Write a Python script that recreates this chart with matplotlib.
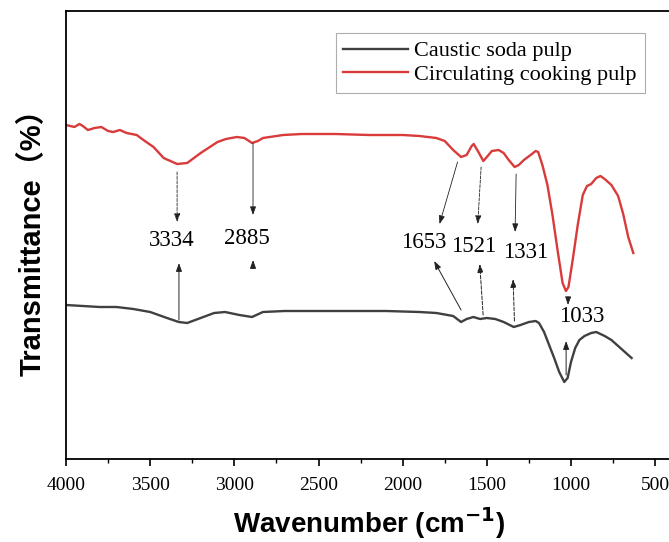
import matplotlib
matplotlib.use("Agg")
import matplotlib.pyplot as plt
from matplotlib.ticker import MultipleLocator

# ── Spectra (wavenumber cm-1, transmittance in arbitrary units) ──
wn_circ = [4000, 3950, 3920, 3900, 3870, 3830, 3790, 3750, 3720, 3680, 3640, 3580, 3540,
           3480, 3420, 3340, 3280, 3200, 3100, 3050, 2985, 2940, 2895, 2860, 2830,
           2710, 2600, 2500, 2400, 2200, 2000, 1900, 1800, 1750, 1700, 1653, 1620,
           1590, 1578, 1550, 1521, 1500, 1470, 1430, 1400, 1370, 1335, 1310, 1280,
           1240, 1210, 1195, 1170, 1140, 1110, 1080, 1050, 1030, 1015, 990, 960,
           930, 905, 880, 850, 825, 800, 760, 720, 690, 660, 630]
t_circ = [334, 332, 335, 333, 329, 331, 332, 328, 327, 329, 326, 324, 319,
          312, 301, 295, 296, 306, 317, 320, 322, 321, 316, 318, 321,
          324, 325, 325, 325, 324, 324, 323, 321, 318, 309, 302, 304,
          313, 315, 307, 298, 302, 308, 309, 306, 299, 292, 294, 299,
          304, 308, 307, 294, 274, 244, 209, 176, 168, 172, 199, 234,
          264, 273, 275, 281, 283, 280, 274, 263, 245, 222, 206]

wn_caus = [4000, 3900, 3800, 3700, 3600, 3500, 3400, 3330, 3280, 3200, 3120, 3055,
           2970, 2895, 2830, 2700, 2500, 2300, 2100, 1900, 1800, 1700, 1653, 1620,
           1580, 1540, 1500, 1450, 1400, 1340, 1300, 1250, 1210, 1190, 1160, 1130,
           1100, 1070, 1040, 1020, 1000, 975, 950, 920, 880, 850, 800, 760,
           720, 680, 640]
t_caus = [154, 153, 152, 152, 150, 147, 141, 137, 136, 141, 146, 147,
          144, 142, 147, 148, 148, 148, 148, 147, 146, 143, 137, 140,
          142, 140, 141, 140, 137, 132, 134, 137, 138, 136, 127, 114,
          101, 87, 77, 81, 97, 111, 119, 123, 126, 127, 123, 119,
          113, 107, 101]

# ── Peak annotations ──
peak_labels = ["3334", "2885", "1653", "1521", "1331", "1033"]
label_pos = [(3370, 219), (2925, 221), (1876, 217), (1579, 213), (1267, 207), (934, 142)]
# arrows from red curve down toward label: (start, tip)
down_start = [(3340, 287), (2889, 316), (1674, 297), (1534, 292), (1326, 285), (1017, 162)]
down_tip = [(3340, 237), (2889, 244), (1781, 235), (1554, 235), (1332, 227), (1018, 154)]
# arrows from black curve up toward label
up_start = [(3329, 139), (2889, 191), (1653, 149), (1522, 144), (1336, 138), (1029, 84)]
up_tip = [(3329, 196), (2889, 199), (1813, 198), (1542, 195), (1344, 180), (1029, 118)]
down_ls = ["--", "-", "-", "--", "-", "-"]
up_ls = ["-", "-", "-", "--", "--", "-"]

fig = plt.figure(figsize=(6.69, 5.42), dpi=100)
ax = fig.add_axes([66 / 669, 83 / 542, 606 / 669, 448 / 542])

ax.plot(wn_caus, t_caus, color="#404040", lw=1.7, label="Caustic soda pulp")
ax.plot(wn_circ, t_circ, color="#d93a3a", lw=1.7, label="Circulating cooking pulp")

serif = ["Liberation Serif", "DejaVu Serif"]
for i, lab in enumerate(peak_labels):
    ax.text(*label_pos[i], lab, ha="center", va="center", fontsize=16.5, family=serif)
    ax.annotate("", xy=down_tip[i], xytext=down_start[i],
                arrowprops=dict(arrowstyle="-|>,head_length=0.5,head_width=0.18",
                                color="#222222", lw=0.6, ls=down_ls[i],
                                shrinkA=0, shrinkB=0))
    ax.annotate("", xy=up_tip[i], xytext=up_start[i],
                arrowprops=dict(arrowstyle="-|>,head_length=0.5,head_width=0.18",
                                color="#222222", lw=0.7, ls=up_ls[i],
                                shrinkA=0, shrinkB=0))

ax.set_xlim(4000, 400)
ax.set_ylim(0, 448)
ax.xaxis.set_major_locator(MultipleLocator(500))
ax.xaxis.set_minor_locator(MultipleLocator(250))
ax.tick_params(axis="x", which="major", direction="out", length=5, width=1.2,
               labelsize=14, pad=8)
ax.tick_params(axis="x", which="minor", direction="out", length=3, width=1.0)
for lbl in ax.get_xticklabels():
    lbl.set_family(serif)
ax.set_yticks([])
ax.spines["right"].set_visible(False)
for s in ("left", "top", "bottom"):
    ax.spines[s].set_linewidth(1.3)

ax.set_xlabel("Wavenumber (cm$^{\\mathbf{-1}}$)", fontsize=20, fontweight="bold",
              family=["Liberation Sans", "DejaVu Sans"], labelpad=8)
ax.set_ylabel("Transmittance（%）", fontsize=21, fontweight="bold",
              family=["Liberation Sans", "Noto Sans CJK SC"], labelpad=14)

leg = ax.legend(loc="upper right", bbox_to_anchor=(0.955, 0.951), borderaxespad=0,
                prop={"family": serif, "size": 16}, frameon=True, fancybox=False,
                handlelength=2.9, handletextpad=0.3, borderpad=0.35, labelspacing=0.15)
leg.get_frame().set_edgecolor("#999999")
leg.get_frame().set_linewidth(0.8)

fig.savefig("out.png", dpi=100)
